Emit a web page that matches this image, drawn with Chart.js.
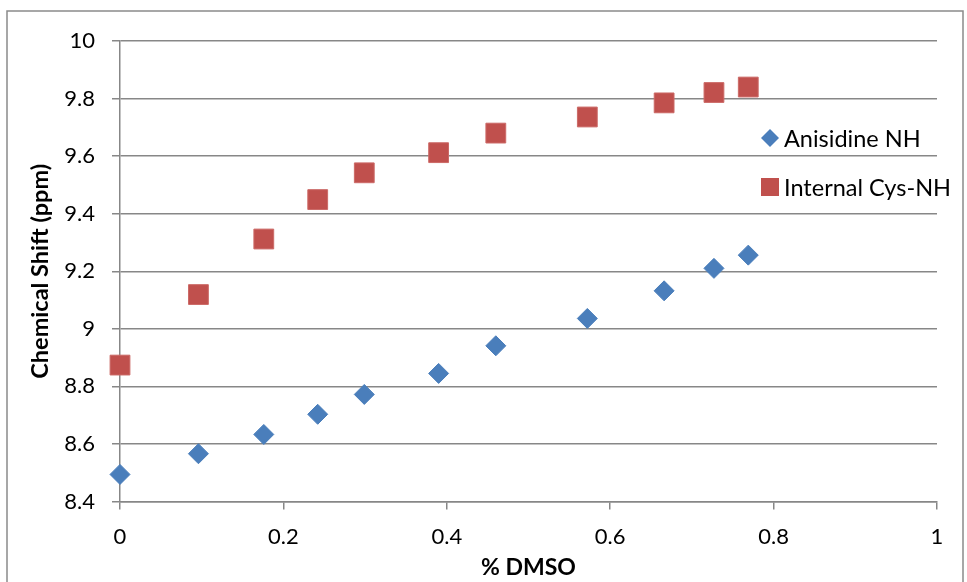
<!DOCTYPE html>
<html>
<head>
<meta charset="utf-8">
<script src="https://cdn.jsdelivr.net/npm/chart.js@4/dist/chart.umd.min.js"></script>
<style>
  html, body { margin: 0; padding: 0; background: #fff; }
  #wrap { position: relative; width: 967px; height: 582px; }
</style>
</head>
<body>
<div id="wrap"><canvas id="c"></canvas></div>
<script>
// ---- data ----
const dmso = [0, 0.096, 0.176, 0.242, 0.299, 0.390, 0.460, 0.572, 0.666, 0.727, 0.769];
const anisidineNH = [8.494, 8.566, 8.633, 8.703, 8.772, 8.845, 8.941, 9.036, 9.132, 9.210, 9.256];
const internalCysNH = [8.874, 9.119, 9.312, 9.449, 9.542, 9.612, 9.680, 9.736, 9.785, 9.821, 9.840];
const seriesNames = ["Anisidine NH", "Internal Cys-NH"];
const xTicks = [0, 0.2, 0.4, 0.6, 0.8, 1];
const yTicks = [8.4, 8.6, 8.8, 9, 9.2, 9.4, 9.6, 9.8, 10];
const xTitle = "% DMSO";
const yTitle = "Chemical Shift (ppm)";

const FONT = "Lato, 'Open Sans', 'Liberation Sans', sans-serif";
const GRID = "#878787";

const toPts = (xs, ys) => xs.map((x, i) => ({ x: x, y: ys[i] }));

const frame = {
  id: 'frame',
  afterDraw(chart) {
    const ctx = chart.ctx;
    ctx.save();
    ctx.strokeStyle = '#8a8a8a';
    ctx.lineWidth = 1.5;
    ctx.strokeRect(7, 11, 956, 590);
    ctx.restore();
  }
};

const innerLegend = {
  id: 'innerLegend',
  afterDatasetsDraw(chart) {
    const ctx = chart.ctx;
    const x0 = 770, ys = [138, 187], textX = 784;
    ctx.save();
    chart.data.datasets.forEach((ds, i) => {
      const y = ys[i];
      ctx.fillStyle = ds.backgroundColor;
      ctx.beginPath();
      if (ds.pointStyle === 'rectRot') {
        const r = 9;
        ctx.moveTo(x0, y - r); ctx.lineTo(x0 + r, y); ctx.lineTo(x0, y + r); ctx.lineTo(x0 - r, y);
        ctx.closePath();
      } else {
        ctx.rect(x0 - 9, y - 9, 18, 18);
      }
      ctx.fill();
      ctx.fillStyle = '#000';
      ctx.font = "23.5px " + FONT;
      ctx.textBaseline = 'middle';
      ctx.textAlign = 'left';
      ctx.fillText(ds.label, textX, y + 1);
    });
    ctx.restore();
  }
};

new Chart(document.getElementById('c'), {
  type: 'scatter',
  data: {
    datasets: [
      {
        label: seriesNames[0],
        data: toPts(dmso, anisidineNH),
        pointStyle: 'rectRot',
        pointRadius: 10,
        pointHoverRadius: 10,
        backgroundColor: '#4A7EBB',
        borderColor: '#4A7EBB',
        borderWidth: 1,
        clip: false
      },
      {
        label: seriesNames[1],
        data: toPts(dmso, internalCysNH),
        pointStyle: 'rect',
        pointRadius: 14,
        pointHoverRadius: 14,
        backgroundColor: '#C0504D',
        borderColor: '#CC6A67',
        borderWidth: 1,
        clip: false
      }
    ]
  },
  options: {
    responsive: true,
    maintainAspectRatio: false,
    animation: false,
    devicePixelRatio: 1,
    layout: { padding: { left: 0, right: 30, top: 41, bottom: 0 } },
    plugins: {
      legend: { display: false },
      tooltip: { enabled: false }
    },
    scales: {
      x: {
        type: 'linear',
        min: 0, max: 1,
        afterBuildTicks: (s) => { s.ticks = xTicks.map(v => ({ value: v })); },
        afterFit: (s) => { s.height = 80.5; },
        grid: { drawOnChartArea: false, drawTicks: true, tickLength: 8, color: GRID, lineWidth: 1.5 },
        border: { display: true, color: GRID, width: 1.5 },
        ticks: {
          color: '#000',
          padding: 14,
          maxRotation: 0,
          font: { family: FONT, size: 22 },
          callback: (v) => String(Number(v.toFixed(1)))
        },
        title: {
          display: true,
          text: xTitle,
          color: '#000',
          font: { family: FONT, size: 23, weight: 'bold' },
          padding: { top: 0, bottom: 1 }
        }
      },
      y: {
        type: 'linear',
        min: 8.4, max: 10,
        afterBuildTicks: (s) => { s.ticks = yTicks.map(v => ({ value: v })); },
        afterFit: (s) => { s.width = 120; },
        grid: { drawTicks: true, tickLength: 8, color: GRID, lineWidth: 1.5 },
        border: { display: true, color: GRID, width: 1.5 },
        ticks: {
          color: '#000',
          padding: 17,
          font: { family: FONT, size: 22 },
          callback: (v) => String(Number(v.toFixed(1)))
        },
        title: {
          display: true,
          text: yTitle,
          color: '#000',
          font: { family: FONT, size: 23.5, weight: 'bold' },
          padding: { top: 26, bottom: 0 }
        }
      }
    }
  },
  plugins: [frame, innerLegend]
});
</script>
</body>
</html>
